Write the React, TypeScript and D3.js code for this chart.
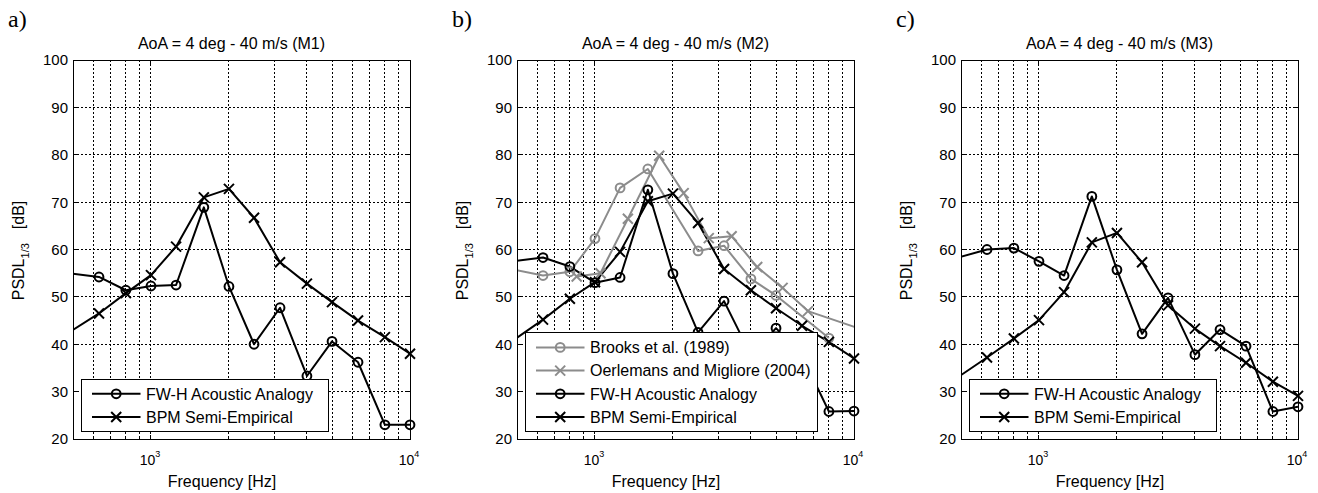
import React from "react";
import * as d3 from "d3";

// ---------- data ----------
const FREQ = [400, 630, 800, 1000, 1250, 1600, 2000, 2500, 3150, 4000, 5000, 6300, 8000, 10000];

const FWH_M1 = [55.5, 54.2, 51.4, 52.3, 52.5, 68.9, 52.2, 40.0, 47.7, 33.3, 40.6, 36.2, 23.0, 23.0];
const BPM_M1 = [39.7, 46.5, 50.8, 54.6, 60.6, 71.0, 72.8, 66.7, 57.3, 52.8, 48.9, 45.0, 41.5, 38.0];

const FWH_M2 = [57.0, 58.3, 56.4, 53.0, 54.1, 72.6, 54.9, 42.5, 49.1, 37.7, 43.4, 37.6, 25.8, 25.9];
const BPM_M2 = [37.7, 45.2, 49.6, 53.1, 59.5, 70.2, 71.8, 65.6, 55.9, 51.4, 47.6, 43.9, 40.5, 37.0];
const BROOKS_FREQ = [400, 630, 800, 1000, 1250, 1600, 2500, 3150, 4000, 5000, 8000];
const BROOKS_M2 = [56.7, 54.5, 55.3, 62.3, 73.0, 77.0, 59.7, 60.8, 53.8, 50.3, 41.3];
const OERL_FREQ = [850, 1050, 1340, 1770, 2200, 2750, 3370, 4230, 5300, 6640, 13300];
const OERL_M2 = [54.3, 55.0, 66.5, 79.8, 71.9, 62.4, 62.8, 56.3, 51.9, 47.0, 41.4];

const FWH_M3 = [57.0, 60.0, 60.3, 57.5, 54.5, 71.2, 55.7, 42.2, 49.8, 37.8, 43.1, 39.6, 25.8, 26.8];
const BPM_M3 = [29.9, 37.2, 41.2, 45.1, 51.0, 61.5, 63.5, 57.3, 48.2, 43.3, 39.6, 36.1, 32.1, 29.1];

const Y_TICKS = [20, 30, 40, 50, 60, 70, 80, 90, 100];
const X_MAJOR = [1000, 10000];
const X_MINOR = [600, 700, 800, 900, 2000, 3000, 4000, 5000, 6000, 7000, 8000, 9000];
const TITLES = ["AoA = 4 deg - 40 m/s  (M1)", "AoA = 4 deg - 40 m/s  (M2)", "AoA = 4 deg - 40 m/s  (M3)"];
const PANEL_LABELS = ["a)", "b)", "c)"];

const GRAY = "#8c8c8c";
const SANS = "'Liberation Sans', Arial, Helvetica, sans-serif";

type Series = { name: string; freq: number[]; vals: number[]; color: string; marker: "o" | "x" };

const PANELS: { left: number; series: Series[] }[] = [
  {
    left: 73,
    series: [
      { name: "FW-H Acoustic Analogy", freq: FREQ, vals: FWH_M1, color: "#000", marker: "o" },
      { name: "BPM Semi-Empirical", freq: FREQ, vals: BPM_M1, color: "#000", marker: "x" },
    ],
  },
  {
    left: 517,
    series: [
      { name: "Brooks et al. (1989)", freq: BROOKS_FREQ, vals: BROOKS_M2, color: GRAY, marker: "o" },
      { name: "Oerlemans and Migliore (2004)", freq: OERL_FREQ, vals: OERL_M2, color: GRAY, marker: "x" },
      { name: "FW-H Acoustic Analogy", freq: FREQ, vals: FWH_M2, color: "#000", marker: "o" },
      { name: "BPM Semi-Empirical", freq: FREQ, vals: BPM_M2, color: "#000", marker: "x" },
    ],
  },
  {
    left: 961,
    series: [
      { name: "FW-H Acoustic Analogy", freq: FREQ, vals: FWH_M3, color: "#000", marker: "o" },
      { name: "BPM Semi-Empirical", freq: FREQ, vals: BPM_M3, color: "#000", marker: "x" },
    ],
  },
];

const PW = 337;
const TOP = 60;
const BOTTOM = 439;

function Marker({ x, y, kind, color }: { x: number; y: number; kind: "o" | "x"; color: string }) {
  if (kind === "o") {
    return <circle cx={x} cy={y} r={4.4} fill="none" stroke={color} strokeWidth={2} />;
  }
  const s = 5;
  return (
    <path
      d={`M${x - s},${y - s}L${x + s},${y + s}M${x - s},${y + s}L${x + s},${y - s}`}
      stroke={color}
      strokeWidth={2}
      fill="none"
    />
  );
}

function Panel({ idx }: { idx: number }) {
  const { left, series } = PANELS[idx];
  const right = left + PW;
  const x = d3.scaleLog().domain([500, 10000]).range([left, right]);
  const y = d3.scaleLinear().domain([20, 100]).range([BOTTOM, TOP]);
  const line = d3
    .line<[number, number]>()
    .x((d) => x(d[0]))
    .y((d) => y(d[1]));
  const clipId = `clip${idx}`;
  const cx = (left + right) / 2;

  const nLeg = series.length;
  const legW = nLeg === 4 ? 292 : 247;
  const legH = 29 + (nLeg - 1) * 23.2;
  const legX = left + 8.5;
  const legY = BOTTOM - 7.5 - legH;

  const dash = "2,2";
  return (
    <g>
      <defs>
        <clipPath id={clipId}>
          <rect x={left} y={TOP} width={PW} height={BOTTOM - TOP} />
        </clipPath>
      </defs>
      <rect x={left} y={TOP} width={PW} height={BOTTOM - TOP} fill="#fff" />
      {/* grid */}
      {[...X_MAJOR, ...X_MINOR]
        .filter((f) => f < 10000)
        .map((f) => (
          <line
            key={"gx" + f}
            x1={x(f)}
            x2={x(f)}
            y1={TOP}
            y2={BOTTOM}
            stroke="#000"
            strokeWidth={1}
            strokeDasharray={dash}
            shapeRendering="crispEdges"
          />
        ))}
      {Y_TICKS.filter((v) => v > 20 && v < 100).map((v) => (
        <line
          key={"gy" + v}
          x1={left}
          x2={right}
          y1={y(v)}
          y2={y(v)}
          stroke="#000"
          strokeWidth={1}
          strokeDasharray={dash}
          shapeRendering="crispEdges"
        />
      ))}
      {/* ticks */}
      {Y_TICKS.map((v) => (
        <g key={"ty" + v}>
          <line x1={left} x2={left + 4} y1={y(v)} y2={y(v)} stroke="#000" shapeRendering="crispEdges" />
          <line x1={right} x2={right - 4} y1={y(v)} y2={y(v)} stroke="#000" shapeRendering="crispEdges" />
        </g>
      ))}
      {[...X_MAJOR, ...X_MINOR].map((f) => {
        const len = X_MAJOR.includes(f) ? 4 : 2;
        return (
          <g key={"tx" + f}>
            <line x1={x(f)} x2={x(f)} y1={BOTTOM} y2={BOTTOM - len} stroke="#000" shapeRendering="crispEdges" />
            <line x1={x(f)} x2={x(f)} y1={TOP} y2={TOP + len} stroke="#000" shapeRendering="crispEdges" />
          </g>
        );
      })}
      {/* series lines */}
      <g clipPath={`url(#${clipId})`}>
        {series.map((s, i) => (
          <path
            key={"l" + i}
            d={line(s.freq.map((f, j) => [f, s.vals[j]] as [number, number])) || ""}
            fill="none"
            stroke={s.color}
            strokeWidth={2}
            strokeLinejoin="round"
          />
        ))}
      </g>
      {series.map((s, i) => (
        <g key={"m" + i}>
          {s.freq.map((f, j) =>
            f >= 500 && f <= 10000 ? (
              <Marker key={j} x={x(f)} y={y(s.vals[j])} kind={s.marker} color={s.color} />
            ) : null
          )}
        </g>
      ))}
      {/* frame */}
      <rect x={left} y={TOP} width={PW} height={BOTTOM - TOP} fill="none" stroke="#000" strokeWidth={1} shapeRendering="crispEdges" />
      {/* y tick labels */}
      {Y_TICKS.map((v) => (
        <text key={"yl" + v} x={left - 5} y={y(v)} dy="0.36em" textAnchor="end" fontSize={15} fontFamily={SANS}>
          {v}
        </text>
      ))}
      {/* x tick labels */}
      {X_MAJOR.map((f) => (
        <text key={"xl" + f} x={x(f) - 1} y={465} textAnchor="middle" fontSize={14} fontFamily={SANS}>
          10
          <tspan fontSize={9} dy={-8}>
            {Math.round(Math.log10(f))}
          </tspan>
        </text>
      ))}
      {/* title */}
      <text x={cx - 10} y={49} textAnchor="middle" fontSize={16} fontFamily={SANS}>
        {TITLES[idx]}
      </text>
      {/* x label */}
      <text x={cx - 19.5} y={486.5} textAnchor="middle" fontSize={16} fontFamily={SANS}>
        Frequency [Hz]
      </text>
      {/* y label */}
      <text
        transform={`translate(${left - 49.5},${(TOP + BOTTOM) / 2 + 1}) rotate(-90)`}
        textAnchor="middle"
        fontSize={16}
        fontFamily={SANS}
      >
        PSDL
        <tspan fontSize={11} dy={5}>
          1/3
        </tspan>
        <tspan dy={-5} dx={14}>
          [dB]
        </tspan>
      </text>
      {/* panel label */}
      <text x={left - 65} y={27} fontSize={24} fontFamily="'Liberation Serif', 'DejaVu Serif', serif">
        {PANEL_LABELS[idx]}
      </text>
      {/* legend */}
      <rect x={legX} y={legY} width={legW} height={legH} fill="#fff" stroke="#000" strokeWidth={1} shapeRendering="crispEdges" />
      {series.map((s, i) => {
        const ry = legY + 14.5 + i * 23.2;
        return (
          <g key={"lg" + i}>
            <line x1={legX + 10.5} x2={legX + 59} y1={ry} y2={ry} stroke={s.color} strokeWidth={2} />
            <Marker x={legX + 34.7} y={ry} kind={s.marker} color={s.color} />
            <text x={legX + 64.5} y={ry + 5.8} fontSize={16} fontFamily={SANS}>
              {s.name}
            </text>
          </g>
        );
      })}
    </g>
  );
}

export default function App() {
  return (
    <svg width={1318} height={493} style={{ position: "absolute", left: 0, top: 0, background: "#fff" }}>
      <rect width={1318} height={493} fill="#fff" />
      {PANELS.map((_, i) => (
        <Panel key={i} idx={i} />
      ))}
    </svg>
  );
}
